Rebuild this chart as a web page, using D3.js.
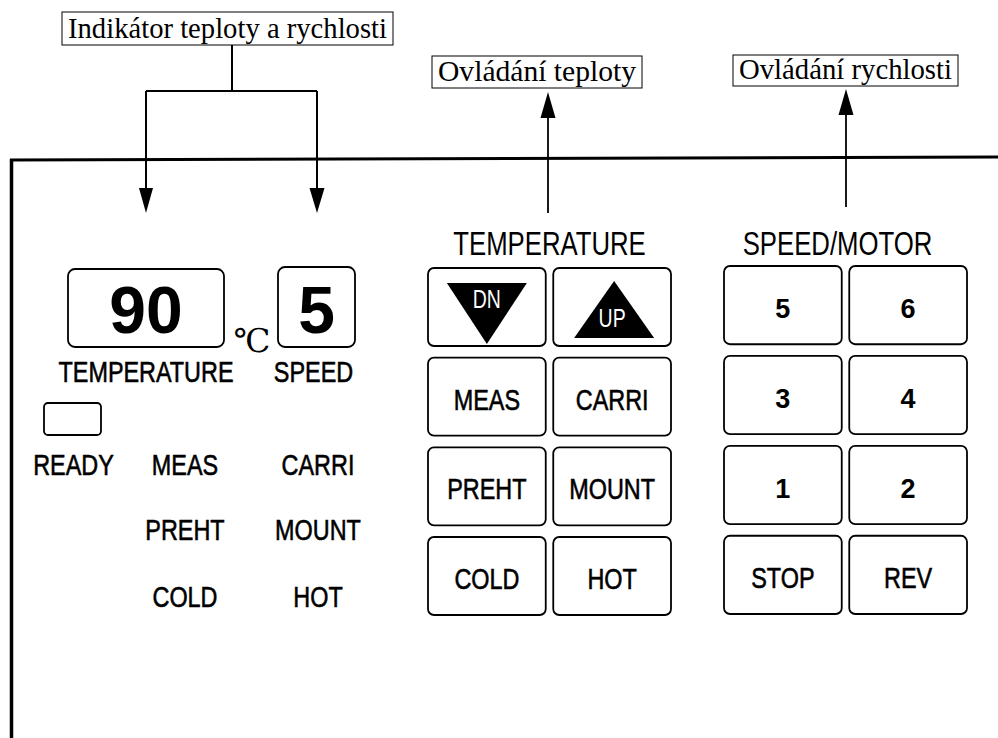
<!DOCTYPE html>
<html>
<head>
<meta charset="utf-8">
<style>
  body { margin: 0; background: #fff; }
  svg { display: block; }
  .sans { font-family: "Liberation Sans", Arial, Helvetica, sans-serif; }
  .serif { font-family: "Liberation Serif", "Times New Roman", serif; }
</style>
</head>
<body>
<svg id="panel" width="998" height="738"></svg>
<script src="https://d3js.org/d3.v7.min.js"></script>
<script>
// callout captions above the panel
var calloutText = ["Indikátor teploty a rychlosti", "Ovládání teploty", "Ovládání rychlosti"];
// group titles over the two keypads
var groupTitles = ["TEMPERATURE", "SPEED/MOTOR"];
// key captions, row by row, two keys per row
var tempKeys = ["DN", "UP", "MEAS", "CARRI", "PREHT", "MOUNT", "COLD", "HOT"];
var speedKeys = ["5", "6", "3", "4", "1", "2", "STOP", "REV"];
// the two displays
var displayValues = [90, 5];
var displayNames = ["TEMPERATURE", "SPEED"];
var unitText = "℃";
// indicator lamps, three columns
var lampRows = [["READY", "MEAS", "CARRI"], ["", "PREHT", "MOUNT"], ["", "COLD", "HOT"]];

var svg = d3.select("#panel");
var squeeze = 0.78; // the panel lettering is a condensed grotesque

// text helper: condensed unless it is just digits
function caption(g, text, x, y, size, opts) {
  opts = opts || {};
  var narrow = /^\d+$/.test(text) ? 1 : squeeze;
  var t = g.append("text")
    .attr("class", "sans")
    .attr("transform", "translate(" + x + "," + y + ") scale(" + narrow + ",1)")
    .attr("text-anchor", "middle")
    .attr("font-size", size)
    .attr("font-weight", opts.bold ? "bold" : "normal")
    .attr("fill", opts.fill || "#000")
    .text(text);
  if (opts.heavy) t.attr("stroke", opts.fill || "#000").attr("stroke-width", 0.6);
  return t;
}

function arrowHead(x, tipY, dir, len, w) {
  // dir 1 = pointing down, -1 = pointing up
  var baseY = tipY - dir * len;
  svg.append("path")
    .attr("d", d3.line()([[x - w / 2, baseY], [x + w / 2, baseY], [x, tipY]]) + "Z")
    .attr("fill", "#000");
}

// ---- panel outline
svg.append("line").attr("x1", 10).attr("y1", 160).attr("x2", 998).attr("y2", 157)
  .attr("stroke", "#000").attr("stroke-width", 3);
svg.append("line").attr("x1", 11.5).attr("y1", 159).attr("x2", 11.5).attr("y2", 738)
  .attr("stroke", "#000").attr("stroke-width", 3.5);

// ---- callout boxes
var boxes = [
  { x: 62, y: 12, w: 331, h: 33 },
  { x: 432, y: 56, w: 210, h: 32 },
  { x: 733, y: 55, w: 225, h: 31 }
];
var callouts = svg.append("g");
calloutText.forEach(function(txt, i) {
  var b = boxes[i];
  callouts.append("rect").attr("x", b.x).attr("y", b.y).attr("width", b.w).attr("height", b.h)
    .attr("fill", "#fff").attr("stroke", "#000").attr("stroke-width", 1);
  callouts.append("text").attr("class", "serif")
    .attr("x", b.x + b.w / 2).attr("y", b.y + b.h - 7)
    .attr("text-anchor", "middle").attr("font-size", 29)
    .attr("textLength", b.w - 12).attr("lengthAdjust", "spacingAndGlyphs")
    .text(txt);
});

// indicator callout: bracket with two down arrows
var conn = d3.path();
conn.moveTo(232, 45); conn.lineTo(232, 91);
conn.moveTo(146, 91); conn.lineTo(317, 91);
conn.moveTo(146, 91); conn.lineTo(146, 195);
conn.moveTo(317, 91); conn.lineTo(317, 195);
svg.append("path").attr("d", conn.toString()).attr("fill", "none")
  .attr("stroke", "#000").attr("stroke-width", 2);
arrowHead(146, 213, 1, 25, 14);
arrowHead(317, 213, 1, 25, 15);

// control callouts: arrows pointing up at the boxes
[[548, 92, 213], [846, 89, 207]].forEach(function(a) {
  svg.append("line").attr("x1", a[0]).attr("y1", a[1] + 20).attr("x2", a[0]).attr("y2", a[2])
    .attr("stroke", "#000").attr("stroke-width", 1.8);
  arrowHead(a[0], a[1], -1, 26, 15);
});

// ---- group titles
caption(svg, groupTitles[0], 549.5, 255, 33);
caption(svg, groupTitles[1], 837.5, 255, 33);

// ---- keypads
function keypad(keys, xRange, yRange) {
  var x = d3.scaleBand().domain([0, 1]).range(xRange).paddingInner(0.06);
  var y = d3.scaleBand().domain([0, 1, 2, 3]).range(yRange).paddingInner(0.13);
  var bw = x.bandwidth(), bh = y.bandwidth();
  var g = svg.append("g");
  var key = g.selectAll("g.key").data(keys).enter().append("g")
    .attr("class", "key")
    .attr("transform", function(d, i) { return "translate(" + x(i % 2) + "," + y(Math.floor(i / 2)) + ")"; });
  key.append("rect").attr("width", bw).attr("height", bh).attr("rx", 6)
    .attr("fill", "#fff").attr("stroke", "#000").attr("stroke-width", 1.8);
  key.each(function(d) {
    var k = d3.select(this), cx = bw / 2;
    if (d === "DN") {
      k.append("path").attr("d", d3.line()([[cx - 40, 15], [cx + 40, 15], [cx, bh - 2]]) + "Z").attr("fill", "#000");
      caption(k, d, cx, 40, 25, { fill: "#fff" });
    } else if (d === "UP") {
      k.append("path").attr("d", d3.line()([[cx + 2, 13], [cx + 42, bh - 8], [cx - 38, bh - 8]]) + "Z").attr("fill", "#000");
      caption(k, d, cx, 59, 25, { fill: "#fff" });
    } else if (/^\d+$/.test(d)) {
      caption(k, d, cx, bh / 2 + 13, 27, { bold: true });
    } else {
      caption(k, d, cx, bh / 2 + 13, 30, { heavy: true });
    }
  });
}
keypad(tempKeys, [428, 671], [268, 615]);
keypad(speedKeys, [724, 967], [266, 614]);

// ---- displays
var disp = svg.append("g");
var dispBoxes = [{ x: 68, y: 269, w: 156, h: 78 }, { x: 278, y: 267, w: 77, h: 80 }];
displayValues.forEach(function(v, i) {
  var b = dispBoxes[i];
  disp.append("rect").attr("x", b.x).attr("y", b.y).attr("width", b.w).attr("height", b.h)
    .attr("rx", 7).attr("fill", "#fff").attr("stroke", "#000").attr("stroke-width", 1.8);
  caption(disp, String(v), b.x + b.w / 2, 333, 66, { bold: true });
});
caption(disp, displayNames[0], 146, 382, 30, { heavy: true });
caption(disp, displayNames[1], 313.5, 382, 30, { heavy: true });
disp.append("text").attr("x", 252).attr("y", 352)
  .attr("font-family", "'DejaVu Serif', serif")
  .attr("text-anchor", "middle").attr("font-size", 33).text(unitText);

// ---- indicator lamps
var lampX = [73.5, 185, 318];
var lampY = [475, 540, 607];
svg.append("rect").attr("x", 44).attr("y", 403).attr("width", 57).attr("height", 32)
  .attr("rx", 4).attr("fill", "#fff").attr("stroke", "#000").attr("stroke-width", 1.8);
lampRows.forEach(function(row, r) {
  row.forEach(function(txt, c) {
    if (txt) caption(svg, txt, lampX[c], lampY[r], 30, { heavy: true });
  });
});
</script>
</body>
</html>
